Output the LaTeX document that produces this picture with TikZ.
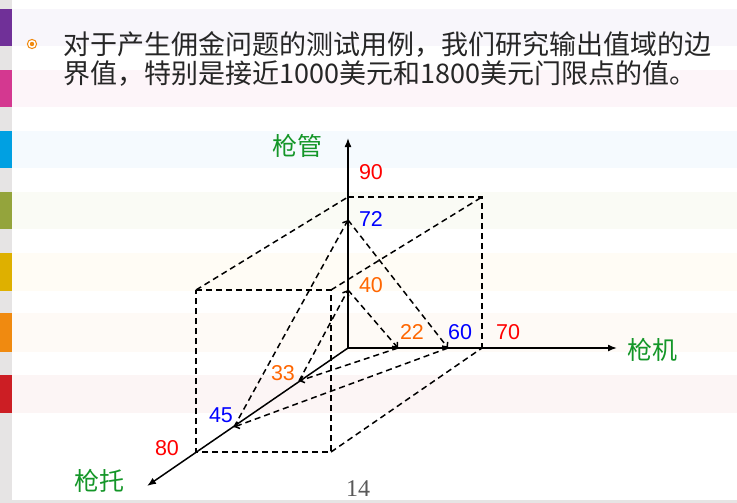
\documentclass[tikz,border=0pt]{standalone}
\usepackage{fontspec}
\usetikzlibrary{arrows.meta}
\newfontfamily\cjk{Noto Sans CJK SC}
\newfontfamily\arialf{Liberation Sans}
\newfontfamily\timesf{Liberation Serif}
\definecolor{sidegray}{RGB}{230,228,228}
\definecolor{bpurple}{RGB}{112,48,152}
\definecolor{bpink}{RGB}{212,56,144}
\definecolor{bblue}{RGB}{0,160,226}
\definecolor{bolive}{RGB}{148,164,60}
\definecolor{byellow}{RGB}{222,176,0}
\definecolor{borange}{RGB}{240,138,16}
\definecolor{bred}{RGB}{204,30,36}
\definecolor{tpurple}{RGB}{248,246,251}
\definecolor{tpink}{RGB}{253,245,249}
\definecolor{tblue}{RGB}{245,250,254}
\definecolor{tolive}{RGB}{250,251,245}
\definecolor{tyellow}{RGB}{255,252,245}
\definecolor{torange}{RGB}{254,250,246}
\definecolor{tred}{RGB}{252,245,245}
\definecolor{titlegray}{RGB}{38,38,38}
\definecolor{axgreen}{RGB}{20,150,40}
\definecolor{lblred}{RGB}{255,0,0}
\definecolor{lblblue}{RGB}{0,0,255}
\definecolor{lblorange}{RGB}{255,102,0}
\definecolor{pagegray}{RGB}{89,89,89}
\tikzset{
  axisline/.style={line width=1.5pt,-{Latex[length=9pt,width=7pt]}},
  dashline/.style={line width=1.5pt,dash pattern=on 6pt off 4pt},
  dasharrow/.style={dashline,-{Straight Barb[length=4pt,width=7pt]}},
  num/.style={font=\arialf\fontsize{21.5}{24}\selectfont,inner sep=0pt},
  axlabel/.style={font=\cjk\fontsize{25}{28}\selectfont,text=axgreen,inner sep=0pt},
  titletext/.style={font=\cjk\fontsize{27}{30}\selectfont,text=titlegray,inner sep=0pt,anchor=west}
}
\begin{document}
\begin{tikzpicture}[x=1pt,y=-1pt]
\useasboundingbox (0,0) rectangle (737,503);
\fill[white] (0,0) rectangle (737,503);
% tinted stripes
\fill[tpurple] (12,9) rectangle (737,46);
\fill[tpink] (12,70) rectangle (737,107);
\fill[tblue] (12,131) rectangle (737,168);
\fill[tolive] (12,192) rectangle (737,229);
\fill[tyellow] (12,253) rectangle (737,291);
\fill[torange] (12,313) rectangle (737,352);
\fill[tred] (12,375) rectangle (737,413);
% left column
\fill[sidegray] (0,0) rectangle (12,503);
\fill[sidegray] (0,500) rectangle (737,503);
\fill[bpurple] (0,9) rectangle (12,46);
\fill[bpink] (0,70) rectangle (12,107);
\fill[bblue] (0,131) rectangle (12,168);
\fill[bolive] (0,192) rectangle (12,229);
\fill[byellow] (0,253) rectangle (12,291);
\fill[borange] (0,313) rectangle (12,352);
\fill[bred] (0,375) rectangle (12,413);
% bullet
\draw[borange,line width=1pt,fill=white] (32,44) circle (4.6);
\fill[borange] (32,44) circle (2.2);
% title
\node[titletext] (t1) at (63,44) {对于产生佣金问题的测试用例，我们研究输出值域的边};
\node[titletext] (t2) at (63,74) {界值，特别是接近1000美元和1800美元门限点的值。};
% coordinates
\coordinate (O) at (348,348);
\coordinate (Ztip) at (348,138);
\coordinate (Xtip) at (617,348);
\coordinate (Ytip) at (147,486);
\coordinate (Z90) at (348,197);
\coordinate (Z72) at (348,220);
\coordinate (Z40) at (348,290);
\coordinate (X22) at (398,348);
\coordinate (X60) at (448,348);
\coordinate (X70) at (482,348);
\coordinate (Y33) at (299,381);
\coordinate (Y45) at (234,427);
\coordinate (Y80) at (196,452);
\coordinate (C1) at (482,197);
\coordinate (F1) at (196,290);
\coordinate (F2) at (331,290);
\coordinate (F3) at (331,452);
% cube
\draw[dashline] (Z90) -- (C1) -- (X70);
\draw[dashline] (F1) -- (F2) -- (F3) -- (Y80) -- (F1);
\draw[dashline] (F1) -- (Z90);
\draw[dashline] (F2) -- (C1);
\draw[dashline] (F3) -- (X70);
% triangles
\draw[dasharrow] (Y45) -- (Z72);
\draw[dasharrow] (Z72) -- (X60);
\draw[dasharrow] (X60) -- (Y45);
\draw[dasharrow] (Y33) -- (Z40);
\draw[dasharrow] (Z40) -- (X22);
\draw[dasharrow] (X22) -- (Y33);
% axes
\draw[axisline] (O) -- (Ztip);
\draw[axisline] (O) -- (Xtip);
\draw[axisline] (O) -- (Ytip);
% labels
\node[num,text=lblred] (l90) at (371,172) {90};
\node[num,text=lblblue] (l72) at (371,219) {72};
\node[num,text=lblorange] (l40) at (371,285) {40};
\node[num,text=lblorange] (l22) at (412,332) {22};
\node[num,text=lblblue] (l60) at (460,332) {60};
\node[num,text=lblred] (l70) at (508,332) {70};
\node[num,text=lblorange] (l33) at (283,373) {33};
\node[num,text=lblblue] (l45) at (221,415) {45};
\node[num,text=lblred] (l80) at (167,448) {80};
\node[axlabel] (ag) at (297,146) {枪管};
\node[axlabel] (aj) at (652,350) {枪机};
\node[axlabel] (at) at (99,481) {枪托};
\node[font=\timesf\fontsize{24}{26}\selectfont,text=pagegray,inner sep=0pt] (pg) at (358,489) {14};
\end{tikzpicture}
\end{document}
